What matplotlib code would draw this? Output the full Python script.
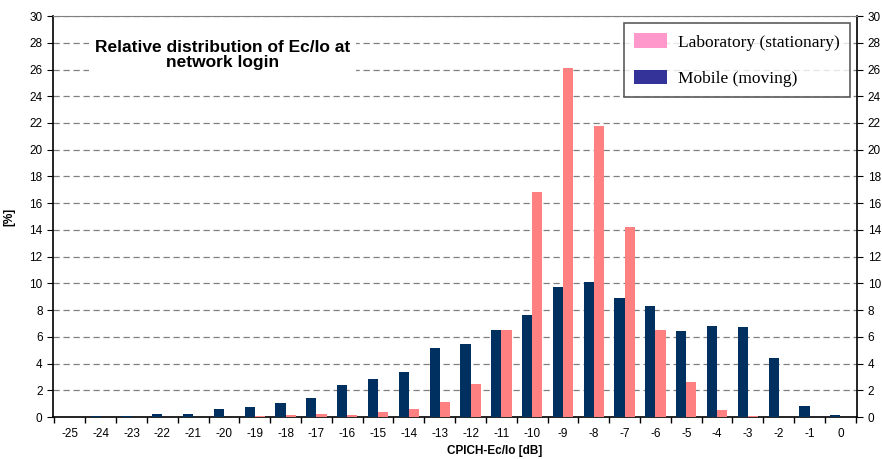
import numpy as np
import matplotlib
matplotlib.use("Agg")
import matplotlib.pyplot as plt
from matplotlib.patches import Patch

plt.rcParams['font.family'] = ['Liberation Sans', 'DejaVu Sans']

# CPICH-Ec/Io bins [dB]
ecio = list(range(-25, 1))
mobile = [0, 0.05, 0.05, 0.2, 0.25, 0.6, 0.75, 1.05, 1.4, 2.4, 2.85, 3.4, 5.2,
          5.45, 6.5, 7.65, 9.7, 10.1, 8.9, 8.3, 6.45, 6.8, 6.75, 4.4, 0.85, 0.15]
lab = [0, 0, 0, 0, 0, 0, 0.1, 0.15, 0.2, 0.15, 0.4, 0.6, 1.1,
       2.5, 6.5, 16.8, 26.1, 21.8, 14.2, 6.5, 2.6, 0.55, 0.1, 0, 0, 0]

x = np.arange(len(ecio))
w = 0.33

fig = plt.figure(figsize=(8.82, 4.59), dpi=100)
ax = fig.add_axes([0.060, 0.0915, 0.912, 0.8735])

ax.bar(x - w / 2, mobile, w, color='#003060', zorder=3)
ax.bar(x + w / 2, lab, w, color='#ff8080', zorder=3)

ax.set_xlim(-0.55, len(ecio) - 0.45)
ax.set_ylim(0, 30)
ax.set_yticks(np.arange(0, 31, 2))
ax.yaxis.grid(True, linestyle=(0, (5, 3)), color='#808080', linewidth=0.9, zorder=0)

ax.set_xticks(x)
ax.set_xticklabels([str(v) for v in ecio], fontsize=8.5)
ax.set_xticks(np.arange(-0.5, len(ecio), 1), minor=True)
ax.tick_params(axis='x', which='major', length=0, pad=8)
ax.tick_params(axis='x', which='minor', length=4, width=1)
ax.tick_params(axis='y', labelsize=8.5, length=4, right=True, labelright=True)
ax.tick_params(axis='y', which='major', direction='out')

ax.spines['top'].set_color('#808080')
for s in ['left', 'right', 'bottom']:
    ax.spines[s].set_linewidth(1.2)

ax.set_ylabel('[%]', fontsize=8.5, fontweight='bold', labelpad=10)
ax.text(0.549, -0.085, 'CPICH-Ec/Io [dB]', transform=ax.transAxes,
        ha='center', va='center', fontsize=8.5, fontweight='bold')

ax.text(0.211, 0.903, 'Relative distribution of Ec/Io at\nnetwork login',
        transform=ax.transAxes, ha='center', va='center', fontsize=12.5,
        fontweight='bold', linespacing=1.05, zorder=5,
        bbox=dict(facecolor='white', edgecolor='none', pad=4))

handles = [Patch(facecolor='#ff99cc', edgecolor='none', label='Laboratory (stationary)'),
           Patch(facecolor='#333399', edgecolor='none', label='Mobile (moving)')]
leg = ax.legend(handles=handles, loc='upper right', bbox_to_anchor=(0.991, 0.9825),
                prop={'family': 'Liberation Serif', 'size': 12.5},
                frameon=True, fancybox=False, edgecolor='#333333',
                labelspacing=1.1, handlelength=1.9, handleheight=0.9,
                handletextpad=0.6, borderpad=0.6, borderaxespad=0)
leg.get_frame().set_linewidth(1.2)
leg.set_zorder(6)

fig.savefig('out.png', dpi=100)
